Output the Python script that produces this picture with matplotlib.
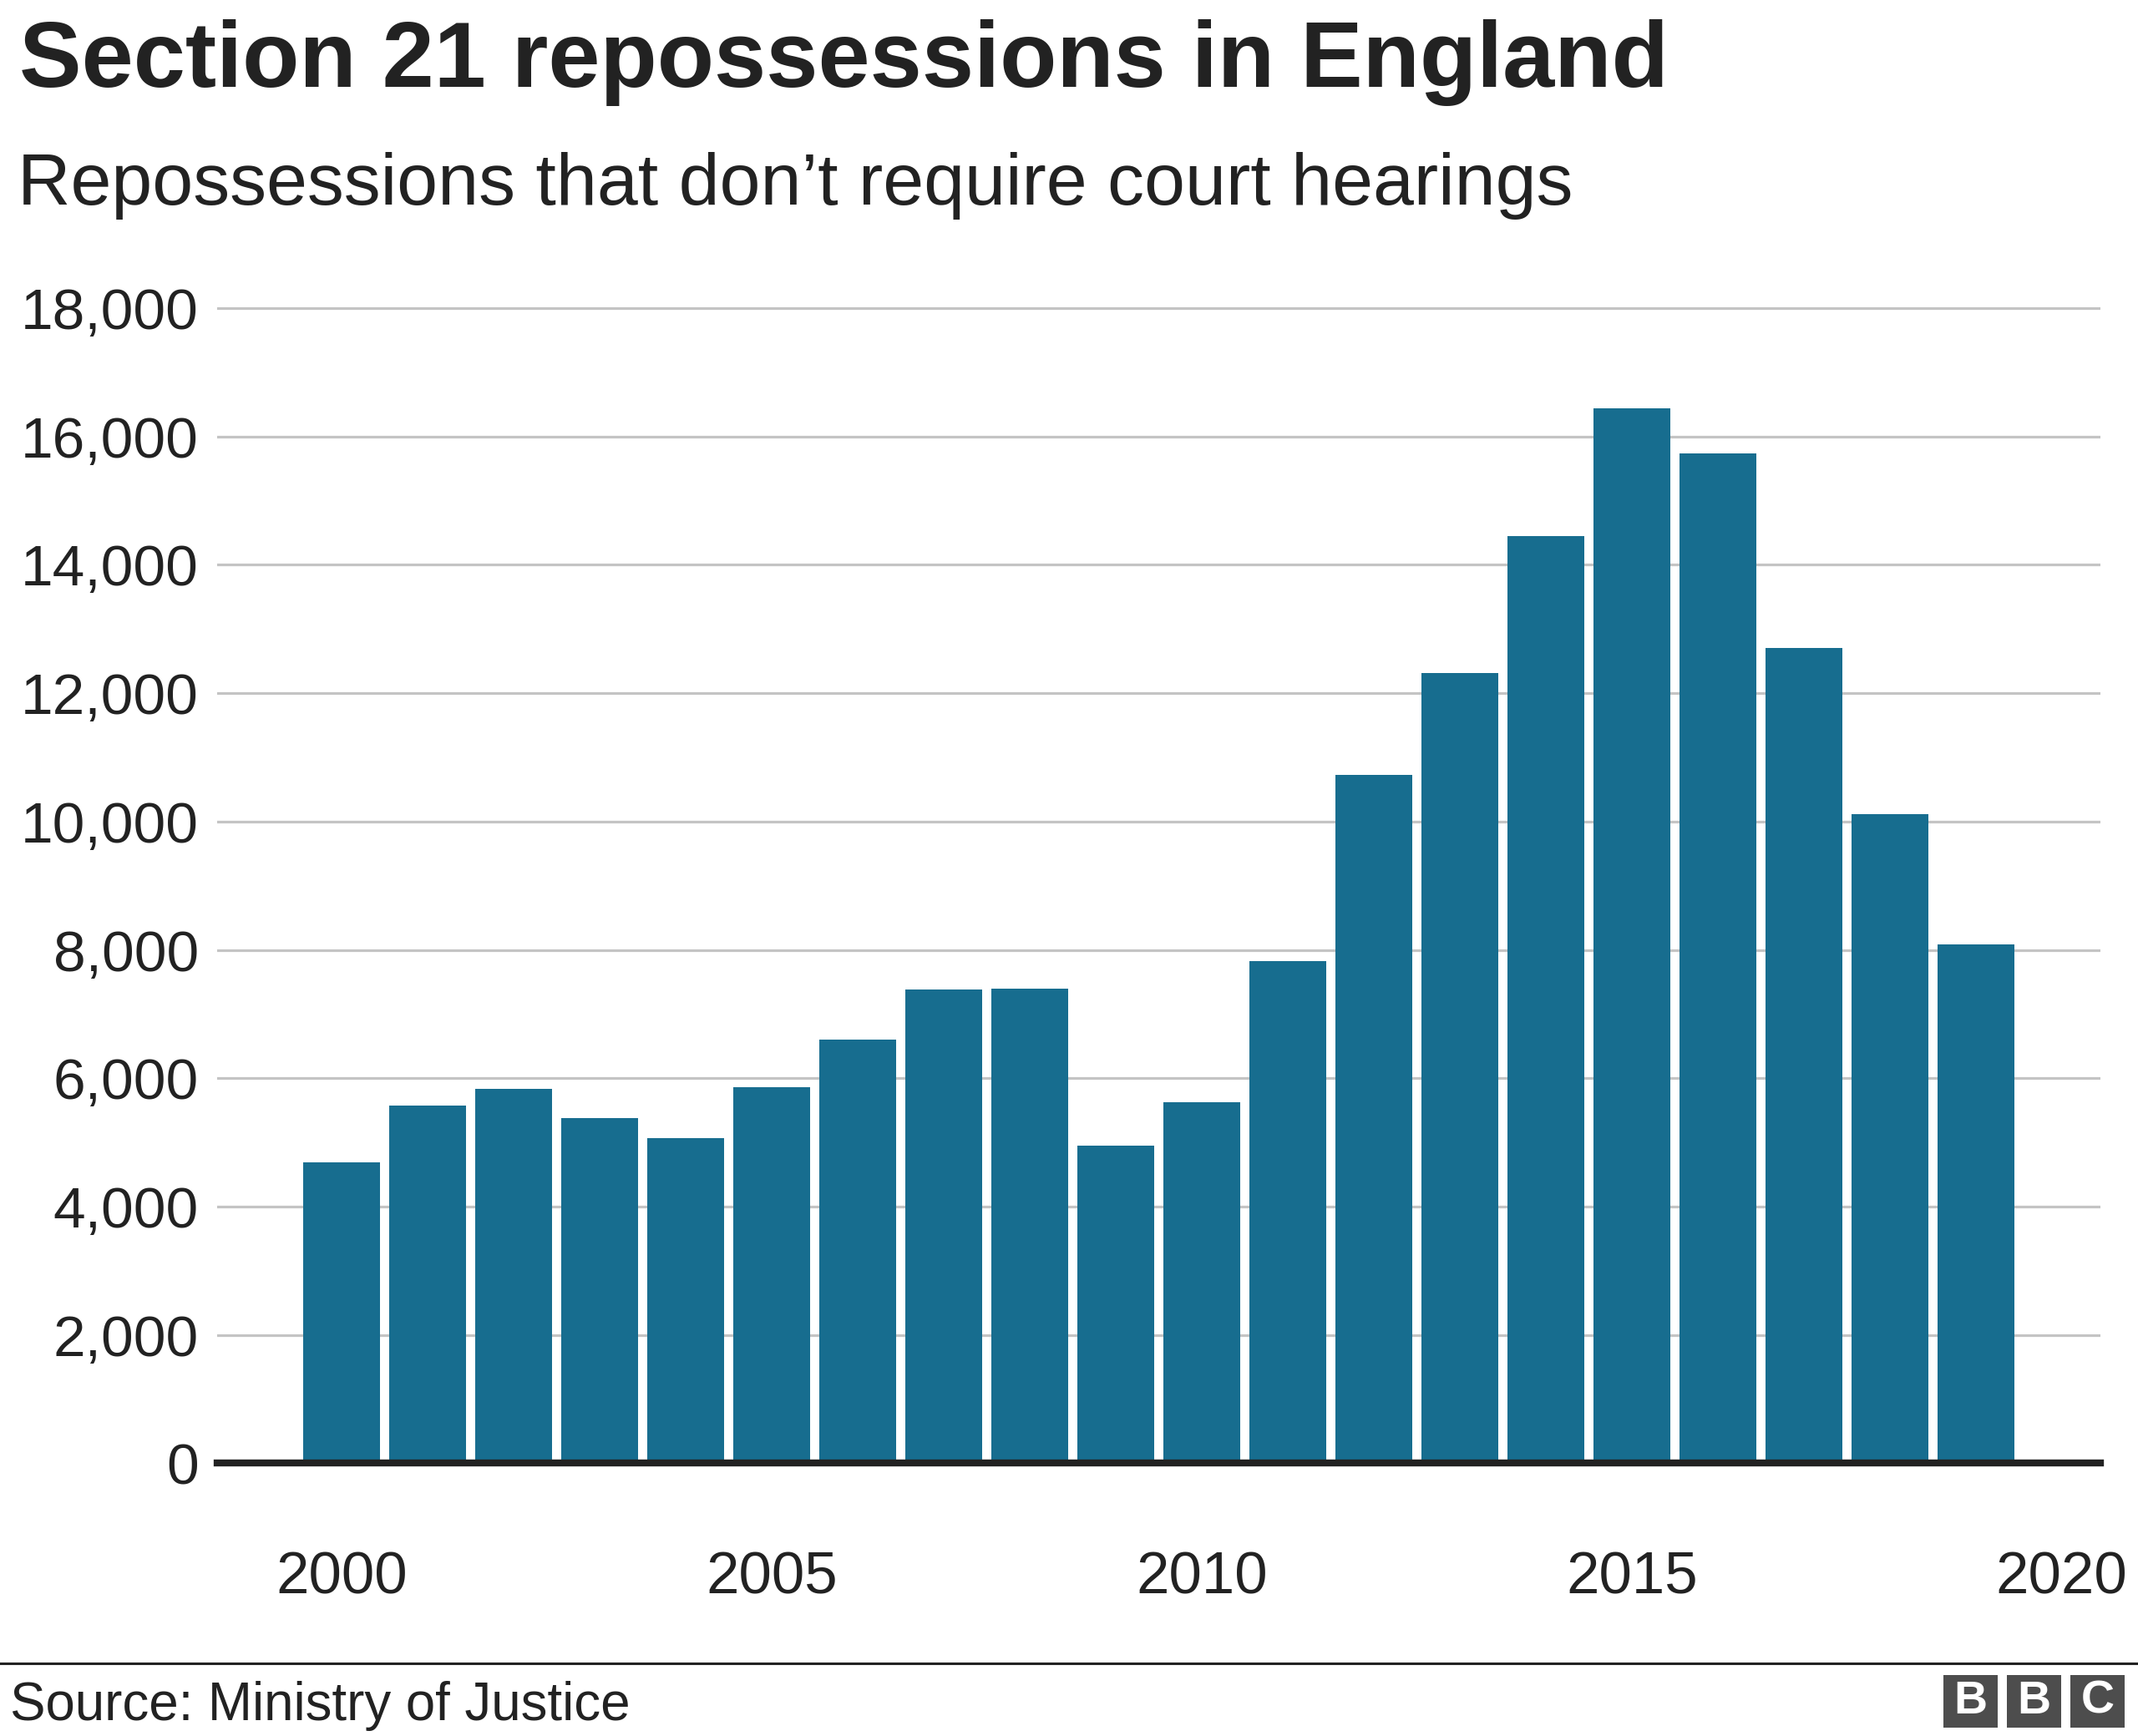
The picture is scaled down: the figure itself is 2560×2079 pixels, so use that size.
import matplotlib
matplotlib.use("Agg")
import matplotlib.pyplot as plt
from matplotlib.patches import Rectangle
from matplotlib.ticker import FuncFormatter

years = [2000, 2001, 2002, 2003, 2004, 2005, 2006, 2007, 2008, 2009,
         2010, 2011, 2012, 2013, 2014, 2015, 2016, 2017, 2018, 2019]
values = [4690, 5580, 5830, 5380, 5070, 5865, 6600, 7380, 7400, 4950,
          5630, 7820, 10730, 12320, 14450, 16440, 15740, 12710, 10120, 8090]
y_ticks = [0, 2000, 4000, 6000, 8000, 10000, 12000, 14000, 16000, 18000]
x_ticks = [2000, 2005, 2010, 2015, 2020]

title = "Section 21 repossessions in England"
subtitle = "Repossessions that don\u2019t require court hearings"
source = "Source: Ministry of Justice"

FONT = ["Liberation Sans", "DejaVu Sans"]
plt.rcParams["font.family"] = FONT

W, H = 2560, 2079
fig = plt.figure(figsize=(W / 100, H / 100), dpi=100)

def fx(px):
    return px / W

def fy(py):
    return 1 - py / H

ax_left, ax_right = 260, 2515
y0_px, ytop_px = 1752.4, 353.7
ax = fig.add_axes([fx(ax_left), fy(y0_px), fx(ax_right - ax_left), (y0_px - ytop_px) / H])

ax.bar(years, values, width=0.89, color="#176d8f", zorder=3)
ax.set_xlim(1998.553, 2020.45)
ax.set_ylim(0, 18200)
ax.set_yticks(y_ticks)
ax.set_xticks(x_ticks)
ax.yaxis.set_major_formatter(FuncFormatter(lambda v, p: f"{int(v):,}"))
ax.grid(axis="y", color="#c4c4c4", linewidth=2.3, zorder=0)
ax.grid(axis="x", visible=False)
for s in ax.spines.values():
    s.set_visible(False)
ax.axhline(0, color="#222222", linewidth=6.0, zorder=4, clip_on=False)
ax.tick_params(axis="y", length=0, pad=16, labelsize=50, labelcolor="#222222")
ax.tick_params(axis="x", length=0, pad=76, labelsize=51, labelcolor="#222222")

fig.text(fx(23), fy(104), title, fontsize=80.5, fontweight="bold", color="#222222",
         ha="left", va="baseline")
fig.text(fx(21), fy(245), subtitle, fontsize=63.3, color="#222222",
         ha="left", va="baseline")

# bottom rule
fig.add_artist(plt.Line2D([0, 1], [fy(1992), fy(1992)], color="#222222", linewidth=2.2,
                          transform=fig.transFigure))
fig.text(fx(12), fy(2060), source, fontsize=45.8, color="#222222", ha="left", va="baseline")

# BBC logo
for i, letter in enumerate("BBC"):
    x0 = 2327 + i * 76
    fig.add_artist(Rectangle((fx(x0), fy(2069)), fx(65), 63 / H, transform=fig.transFigure,
                             facecolor="#4d4d4d", edgecolor="none"))
    fig.text(fx(x0 + 32.5), fy(2038), letter, fontsize=40, fontweight="bold", color="white",
             ha="center", va="center")

fig.savefig("out.png", dpi=100, facecolor="white")
